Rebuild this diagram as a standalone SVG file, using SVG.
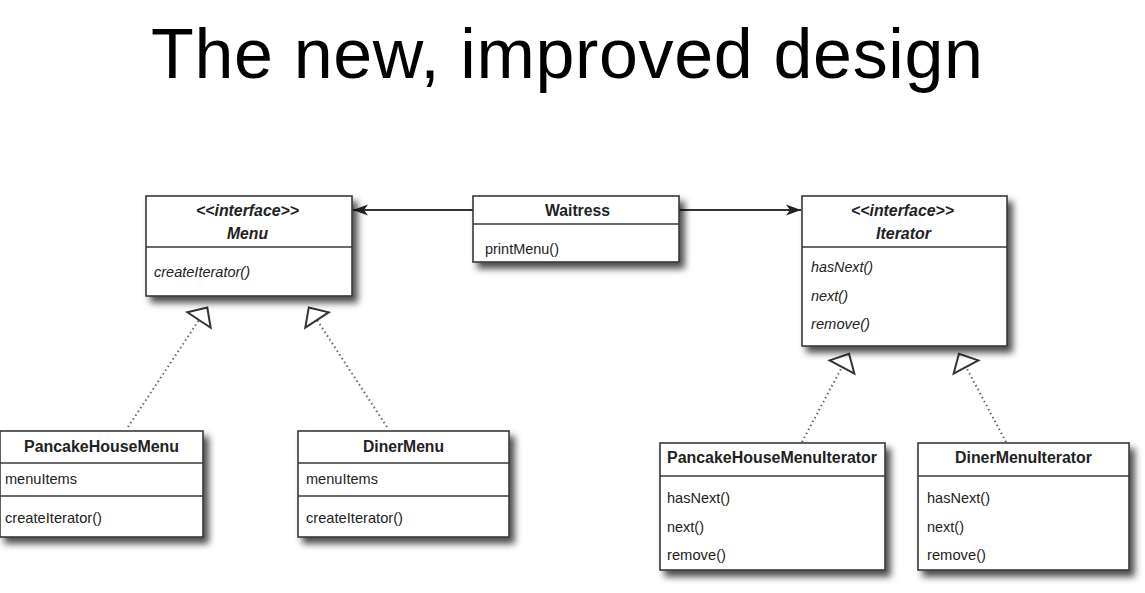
<svg xmlns="http://www.w3.org/2000/svg" width="1145" height="593" viewBox="0 0 1145 593">
<defs>
<style>
.box{fill:#fff;stroke:#3a3a3a;stroke-width:1.6;filter:url(#sh)}
.div{stroke:#3a3a3a;stroke-width:1.6}
.t{font-family:"Liberation Sans",Arial,sans-serif;fill:#222}
.b{font-weight:bold;font-size:16px}
.r{font-size:15px}
.i{font-style:italic}
.title{font-family:"Liberation Sans",Arial,sans-serif;font-size:70px;fill:#000}
.assoc{stroke:#333;stroke-width:2;fill:none}
.real{stroke:#666;stroke-width:2;stroke-dasharray:1.5 3;fill:none}
</style>
<filter id="sh" x="-10%" y="-10%" width="130%" height="140%">
<feDropShadow dx="5" dy="6" stdDeviation="3.5" flood-color="#000" flood-opacity="0.7"/>
</filter>
<marker id="arr" markerUnits="userSpaceOnUse" markerWidth="20" markerHeight="14" refX="15" refY="7" orient="auto">
<path d="M15,7 L0,1.5 L4,7 L0,12.5 Z" fill="#222"/>
</marker>
<marker id="tri" markerUnits="userSpaceOnUse" markerWidth="22" markerHeight="34" refX="2" refY="17" orient="auto" overflow="visible">
<path d="M2,3 L17,17 L2,31 Z" fill="#fff" stroke="#333" stroke-width="2" stroke-linejoin="miter"/>
</marker>
</defs>
<rect width="1145" height="593" fill="#fff"/>
<text class="title" x="151" y="78" textLength="832" lengthAdjust="spacing">The new, improved design</text>

<g id="connectors">
<line class="assoc" x1="473" y1="210" x2="353" y2="210" marker-end="url(#arr)"/>
<line class="assoc" x1="679" y1="210" x2="801" y2="210" marker-end="url(#arr)"/>
<line class="real" x1="128" y1="427" x2="199" y2="320" marker-end="url(#tri)"/>
<line class="real" x1="387" y1="427" x2="317" y2="320" marker-end="url(#tri)"/>
<line class="real" x1="802" y1="442" x2="842" y2="367" marker-end="url(#tri)"/>
<line class="real" x1="1006" y1="442" x2="966" y2="367" marker-end="url(#tri)"/>
</g>

<g id="menu">
<rect class="box" x="146" y="196" width="206" height="100"/>
<line class="div" x1="146" y1="247" x2="352" y2="247"/>
<text class="t b i" x="196" y="216" textLength="103" lengthAdjust="spacingAndGlyphs">&lt;&lt;interface&gt;&gt;</text>
<text class="t b i" x="227" y="239" textLength="41" lengthAdjust="spacingAndGlyphs">Menu</text>
<text class="t r i" x="154" y="277" textLength="96" lengthAdjust="spacingAndGlyphs">createIterator()</text>
</g>

<g id="waitress">
<rect class="box" x="473" y="196" width="206" height="66"/>
<line class="div" x1="473" y1="224" x2="679" y2="224"/>
<text class="t b" x="545" y="216" textLength="65" lengthAdjust="spacingAndGlyphs">Waitress</text>
<text class="t r" x="485" y="254" textLength="74" lengthAdjust="spacingAndGlyphs">printMenu()</text>
</g>

<g id="iterator">
<rect class="box" x="802" y="196" width="205" height="150"/>
<line class="div" x1="802" y1="247" x2="1007" y2="247"/>
<text class="t b i" x="851" y="216" textLength="103" lengthAdjust="spacingAndGlyphs">&lt;&lt;interface&gt;&gt;</text>
<text class="t b i" x="876" y="239" textLength="55" lengthAdjust="spacingAndGlyphs">Iterator</text>
<text class="t r i" x="811" y="272" textLength="62" lengthAdjust="spacingAndGlyphs">hasNext()</text>
<text class="t r i" x="811" y="301" textLength="37" lengthAdjust="spacingAndGlyphs">next()</text>
<text class="t r i" x="811" y="329" textLength="59" lengthAdjust="spacingAndGlyphs">remove()</text>
</g>

<g id="pancakeHouseMenu">
<rect class="box" x="0" y="431" width="203" height="106"/>
<line class="div" x1="0" y1="463" x2="203" y2="463"/>
<line class="div" x1="0" y1="496" x2="203" y2="496"/>
<text class="t b" x="24" y="452" textLength="155" lengthAdjust="spacingAndGlyphs">PancakeHouseMenu</text>
<text class="t r" x="5" y="484" textLength="72" lengthAdjust="spacingAndGlyphs">menuItems</text>
<text class="t r" x="5" y="523" textLength="97" lengthAdjust="spacingAndGlyphs">createIterator()</text>
</g>

<g id="dinerMenu">
<rect class="box" x="298" y="431" width="211" height="106"/>
<line class="div" x1="298" y1="463" x2="509" y2="463"/>
<line class="div" x1="298" y1="496" x2="509" y2="496"/>
<text class="t b" x="363" y="452" textLength="81" lengthAdjust="spacingAndGlyphs">DinerMenu</text>
<text class="t r" x="306" y="484" textLength="72" lengthAdjust="spacingAndGlyphs">menuItems</text>
<text class="t r" x="306" y="523" textLength="97" lengthAdjust="spacingAndGlyphs">createIterator()</text>
</g>

<g id="pancakeHouseMenuIterator">
<rect class="box" x="660" y="443" width="225" height="127"/>
<line class="div" x1="660" y1="476" x2="885" y2="476"/>
<text class="t b" x="667" y="463" textLength="210" lengthAdjust="spacingAndGlyphs">PancakeHouseMenuIterator</text>
<text class="t r" x="667" y="503" textLength="63" lengthAdjust="spacingAndGlyphs">hasNext()</text>
<text class="t r" x="667" y="532" textLength="37" lengthAdjust="spacingAndGlyphs">next()</text>
<text class="t r" x="667" y="560" textLength="59" lengthAdjust="spacingAndGlyphs">remove()</text>
</g>

<g id="dinerMenuIterator">
<rect class="box" x="918" y="443" width="211" height="127"/>
<line class="div" x1="918" y1="476" x2="1129" y2="476"/>
<text class="t b" x="955" y="463" textLength="137" lengthAdjust="spacingAndGlyphs">DinerMenuIterator</text>
<text class="t r" x="927" y="503" textLength="63" lengthAdjust="spacingAndGlyphs">hasNext()</text>
<text class="t r" x="927" y="532" textLength="37" lengthAdjust="spacingAndGlyphs">next()</text>
<text class="t r" x="927" y="560" textLength="59" lengthAdjust="spacingAndGlyphs">remove()</text>
</g>
</svg>
